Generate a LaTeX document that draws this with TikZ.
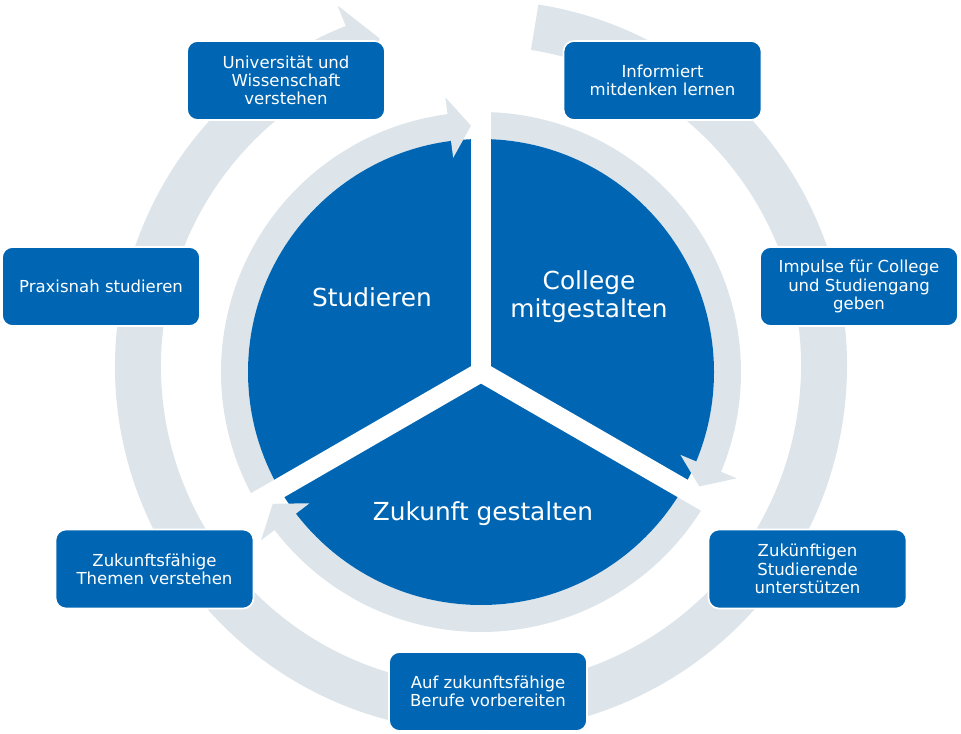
\documentclass[tikz,border=0pt]{standalone}
\usepackage{fontspec}
\setmainfont{DejaVu Sans}
\usetikzlibrary{calc,positioning}
\definecolor{uniblue}{RGB}{0,102,179}
\definecolor{ringgray}{RGB}{221,229,235}

\begin{document}
\begin{tikzpicture}[x=0.75pt, y=0.75pt,
    stepbox/.style = {draw=white, line width=1.2pt, fill=uniblue, rounded corners=8pt,
      text=white, align=center, font=\fontsize{12.4}{13.7}\selectfont,
      minimum width=148.5pt, minimum height=59.25pt, inner sep=2pt},
    sectorlabel/.style = {text=white, align=center, font=\fontsize{18.6}{21}\selectfont},
    outerband/.style = {draw=ringgray, line width=34.5pt},
    innerband/.style = {draw=ringgray, line width=20.25pt},
    gapline/.style = {draw=white, line width=15pt}]
    \useasboundingbox (0,0) rectangle (961,733);
    \coordinate (rc) at (481,367);
    \coordinate (pc) at (481,361);

    \draw[outerband] ($(rc)+(81:343)$) arc[start angle=81, end angle=-248.8, radius=343];
    \fill[ringgray] ($(rc)+(111.7:388)$) -- ($(rc)+(107.2:343)$) -- ($(rc)+(111.7:298)$) -- cycle;

    \draw[innerband] ($(pc)+(210:246.5)$) arc[start angle=210, end angle=96.9, radius=246.5];
    \draw[innerband] ($(pc)+(90:246.5)$) arc[start angle=90, end angle=-23.1, radius=246.5];
    \draw[innerband] ($(pc)+(-30:246.5)$) arc[start angle=-30, end angle=-143.1, radius=246.5];
    \fill[uniblue] (pc) circle[radius=233];
    \draw[gapline] (pc) -- ++(90:268);
    \draw[gapline] (pc) -- ++(-30:268);
    \draw[gapline] (pc) -- ++(210:268);
    \fill[ringgray] ($(pc)+(97.4:277)$) -- ($(pc)+(92.33:246.5)$) -- ($(pc)+(97.4:216)$) -- cycle;
    \fill[ringgray] ($(pc)+(-22.57:277)$) -- ($(pc)+(-27.67:246.5)$) -- ($(pc)+(-22.57:216)$) -- cycle;
    \fill[ringgray] ($(pc)+(-142.57:277)$) -- ($(pc)+(-147.67:246.5)$) -- ($(pc)+(-142.57:216)$) -- cycle;

    \node[sectorlabel] (studieren) at (372,436) {Studieren};
    \node[sectorlabel] (college) at (589,436) {College\\mitgestalten};
    \node[sectorlabel] (zukunft) at (483,219) {Zukunft gestalten};

    \node[stepbox] (uni) at (286,652.5) {Universität und\\Wissenschaft\\verstehen};
    \node[stepbox] (informiert) at (662.5,652.5) {Informiert\\mitdenken lernen};
    \node[stepbox] (impulse) at (859,446.5) {Impulse für College\\und Studiengang\\geben};
    \node[stepbox] (studierende) at (807.5,164) {Zukünftigen\\Studierende\\unterstützen};
    \node[stepbox] (berufe) at (488,41.5) {Auf zukunftsfähige\\Berufe vorbereiten};
    \node[stepbox] (themen) at (154.5,164) {Zukunftsfähige\\Themen verstehen};
    \node[stepbox] (praxis) at (101,446.5) {Praxisnah studieren};
\end{tikzpicture}
\end{document}
